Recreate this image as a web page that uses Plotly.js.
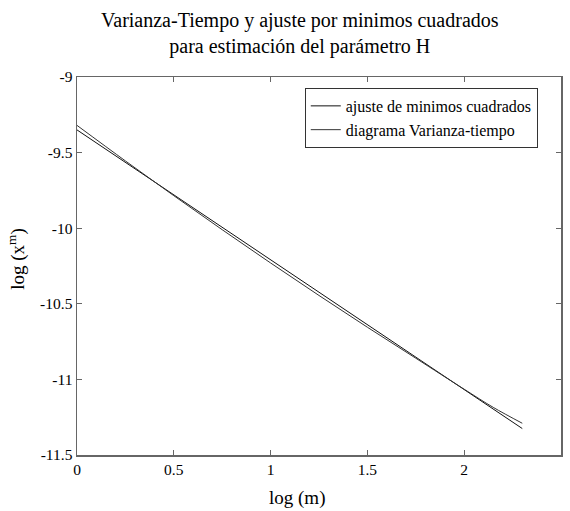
<!DOCTYPE html>
<html>
<head>
<meta charset="utf-8">
<script src="https://cdn.plot.ly/plotly-3.0.1.min.js"></script>
<style>html,body{margin:0;padding:0;background:#fff;}#chart{width:570px;height:511px;}</style>
</head>
<body>
<div id="chart"></div>
<script>
const fitX = [0, 2.3];
const fitY = [-9.35, -11.325];
const dataX = [0, 0.25, 0.5, 0.75, 1.0, 1.25, 1.5, 1.75, 2.0, 2.15, 2.3];
const dataY = [-9.32, -9.555, -9.785, -10.01, -10.23, -10.445, -10.655, -10.86, -11.065, -11.185, -11.29];
const xTickVals = [0, 0.5, 1, 1.5, 2, 2.5];
const xTickText = ['0', '0.5', '1', '1.5', '2', '2.5'];
const yTickVals = [-9, -9.5, -10, -10.5, -11, -11.5];
const yTickText = ['-9', '-9.5', '-10', '-10.5', '-11', '-11.5'];

const font = 'Liberation Serif';
const traces = [
  {x: fitX, y: fitY, mode: 'lines', name: 'ajuste de minimos cuadrados', line: {color: '#111', width: 1}},
  {x: dataX, y: dataY, mode: 'lines', name: 'diagrama Varianza-tiempo', line: {color: '#333', width: 1, shape: 'spline'}}
];
const axisCommon = {
  showline: true, mirror: 'ticks', linecolor: '#666', linewidth: 1.5,
  ticks: 'inside', ticklen: 5, tickcolor: '#666', tickwidth: 1,
  showgrid: false, zeroline: false, tickmode: 'array',
  tickfont: {family: font, size: 15.5, color: '#000'}
};
const layout = {
  width: 570, height: 511,
  margin: {l: 77, r: 9, t: 77, b: 56},
  paper_bgcolor: '#fff', plot_bgcolor: '#fff',
  font: {family: font, color: '#000'},
  title: {text: 'Varianza-Tiempo y ajuste por minimos cuadrados<br>para estimación del parámetro H',
          font: {family: font, size: 20, color: '#000'}, x: 0.526, xanchor: 'center',
          yref: 'container', y: 0.947, yanchor: 'middle'},
  xaxis: Object.assign({}, axisCommon, {range: [0, 2.5], tickvals: xTickVals, ticktext: xTickText}),
  yaxis: Object.assign({}, axisCommon, {range: [-11.5, -9], tickvals: yTickVals, ticktext: yTickText}),
  annotations: [
    {text: 'log (m)', xref: 'paper', yref: 'paper', x: 0.4545, y: -0.114, xanchor: 'center', yanchor: 'middle',
     showarrow: false, font: {family: font, size: 19, color: '#000'}},
    {text: 'log (x<sup>m</sup>)', xref: 'paper', yref: 'paper', x: -0.124, y: 0.519, xanchor: 'center', yanchor: 'middle',
     textangle: -90, showarrow: false, font: {family: font, size: 19, color: '#000'}}
  ],
  showlegend: true,
  legend: {x: 0.952, xanchor: 'right', y: 0.971, yanchor: 'top', bordercolor: '#333', borderwidth: 1,
           bgcolor: '#fff', font: {family: font, size: 16, color: '#000'}, tracegroupgap: 0}
};
Plotly.newPlot('chart', traces, layout, {displayModeBar: false, staticPlot: true});
</script>
</body>
</html>
